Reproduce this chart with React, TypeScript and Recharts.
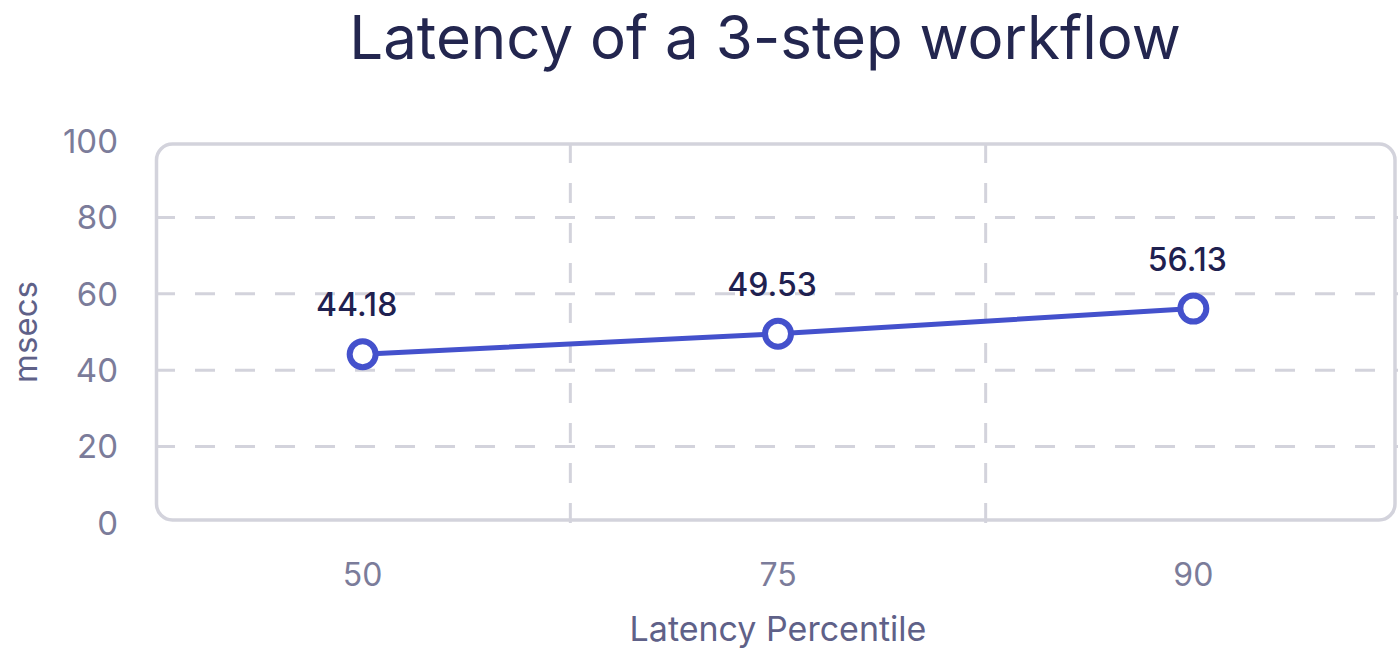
import { ComposedChart, Line, XAxis, YAxis, LabelList, ReferenceArea, ReferenceLine } from 'recharts'

const percentiles = ['50', '75', '90']
const latencyMs = [44.18, 49.53, 56.13]
const yTicks = [0, 20, 40, 60, 80, 100]
const gridYTicks = [20, 40, 60, 80]
// vertical dividers sit at the end of these bands
const dividerAfter = ['50', '75']

const FONT = 'Inter, "Noto Sans", sans-serif'
const LINE = '#4451cc'
const GRID = '#d3d3dc'

const data = percentiles.map((p, i) => ({ p, latency: latencyMs[i] }))

// rounded frame inside the plot area
const Frame = (props: any) => {
  const { x, y, width, height } = props
  return (
    <rect x={x + 1.5} y={y + 3} width={width - 7.5} height={height - 6} rx={16} ry={16}
      fill="none" stroke={GRID} strokeWidth={3.5} />
  )
}

export default function App() {
  return (
    <div style={{ position: 'absolute', left: 0, top: 0, width: 1398, height: 650, overflow: 'hidden', background: '#fff', fontFamily: FONT }}>
      <div style={{ position: 'absolute', top: -3, left: 265, width: 1000, textAlign: 'center', fontSize: 60, lineHeight: '80px', color: '#23264f' }}>
        Latency of a 3-step workflow
      </div>
      <ComposedChart width={1410} height={650} data={data} margin={{ top: 141, right: 9, bottom: 0, left: 0 }}>
        <XAxis dataKey="p" scale="band" axisLine={false} tickLine={false} tickSize={0} tickMargin={40} height={127}
          tick={{ fill: '#7b7c9a', fontSize: 32, fontFamily: FONT }}
          label={{ value: 'Latency Percentile', position: 'insideBottom', offset: 9, fill: '#5f6188', fontSize: 34, fontFamily: FONT }} />
        <YAxis domain={[0, 100]} ticks={yTicks} axisLine={false} tickLine={false} tickSize={0} tickMargin={37} width={155}
          tick={{ fill: '#7b7c9a', fontSize: 33, fontFamily: FONT }}
          label={{ value: 'msecs', angle: -90, position: 'insideLeft', offset: 25, fill: '#5f6188', fontSize: 33, fontFamily: FONT, style: { textAnchor: 'middle' } }} />
        <ReferenceArea y1={0} y2={100} shape={<Frame />} ifOverflow="visible" />
        {dividerAfter.map(c => (
          <ReferenceLine key={'x' + c} x={c} position="end" stroke={GRID} strokeWidth={3} strokeDasharray="20 20" />
        ))}
        {gridYTicks.map(v => (
          <ReferenceLine key={'y' + v} y={v} stroke={GRID} strokeWidth={3} strokeDasharray="20 20" />
        ))}
        <Line dataKey="latency" stroke={LINE} strokeWidth={5} isAnimationActive={false}
          dot={{ r: 13, fill: '#fff', stroke: LINE, strokeWidth: 6 }} activeDot={false}>
          <LabelList dataKey="latency" position="top" offset={38} dx={-6} fill="#1f2150" fontSize={32} fontWeight={500} fontFamily={FONT} />
        </Line>
      </ComposedChart>
    </div>
  )
}
